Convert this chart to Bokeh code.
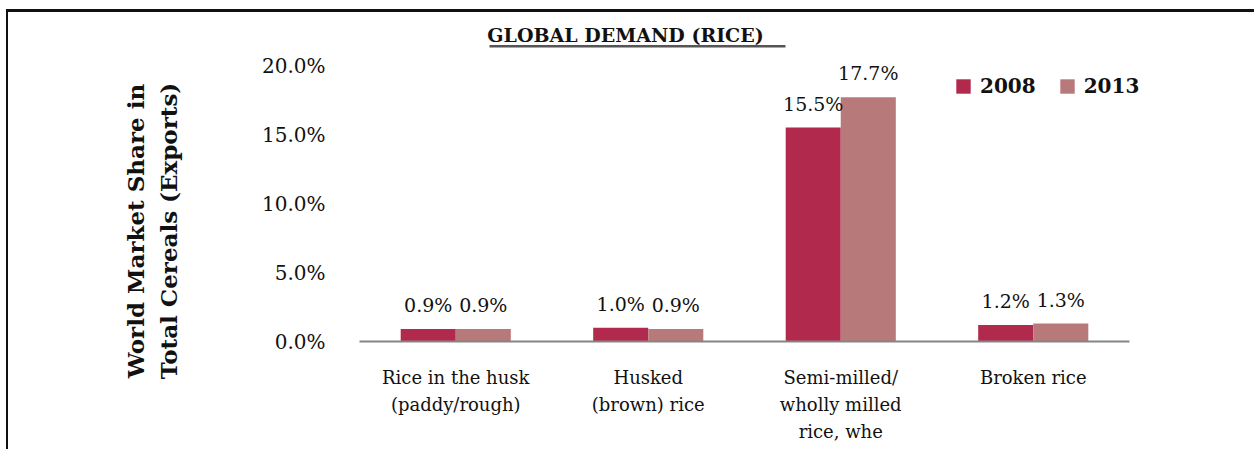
import numpy as np
from bokeh.plotting import figure
from bokeh.layouts import row
from bokeh.models import (Range1d, PrintfTickFormatter, Label, BoxAnnotation,
                          Legend, LegendItem, ColumnDataSource, FixedTicker, Div)
from bokeh.transform import dodge
from bokeh.core.properties import value
from bokeh.embed import file_html
from bokeh.resources import INLINE

# ---- data ----
categories = ["Rice in the husk\n(paddy/rough)", "Husked\n(brown) rice",
              "Semi-milled/\nwholly milled\nrice, whe", "Broken rice"]
share_2008 = [0.9, 1.0, 15.5, 1.2]
share_2013 = [0.9, 0.9, 17.7, 1.3]
series_names = ["2008", "2013"]
y_ticks = [0, 5, 10, 15, 20]
title_text = "GLOBAL DEMAND (RICE)"
y_title_lines = ["World Market Share in", "Total Cereals (Exports)"]

colors = ["#B2294E", "#B8797B"]
SERIF = "DejaVu Serif"
TXT = "#111111"

# ---- layout geometry (page pixels) ----
TOP = 12            # content starts below the top rule
LEFT_W = 240        # width of the left (y-title) column incl. left rule
RULE_X = 8          # left margin + left rule width
FRAME_L = 359       # plot frame left edge
FRAME_B = 341       # value 0 baseline
PX_PER_UNIT_Y = 13.8
PX_PER_CAT = 192.5
TOTAL_W, TOTAL_H = 1254, 449
CH = TOTAL_H - TOP

pos = np.arange(len(categories)) + 0.5
src = ColumnDataSource(dict(
    pos=pos,
    v2008=share_2008,
    v2013=share_2013,
    t2008=[f"{v:.1f}%" for v in share_2008],
    t2013=[f"{v:.1f}%" for v in share_2013],
))

# ---------------- main chart ----------------
frame_h = FRAME_B - TOP
frame_w = TOTAL_W - FRAME_L
main_w = TOTAL_W - LEFT_W
p = figure(x_range=Range1d(0, frame_w / PX_PER_CAT),
           y_range=Range1d(0, frame_h / PX_PER_UNIT_Y),
           width=main_w, height=CH, frame_width=frame_w, frame_height=frame_h,
           output_backend="svg", toolbar_location=None,
           min_border_left=FRAME_L - LEFT_W, min_border_right=0, min_border_top=0,
           min_border_bottom=CH - frame_h, outline_line_color=None)

def dx(page_x):
    return (page_x - FRAME_L) / PX_PER_CAT

def dy(page_y):
    return (FRAME_B - page_y) / PX_PER_UNIT_Y

off = 0.143
bw = 0.286
r1 = p.vbar(x=dodge("pos", -off), top="v2008", width=bw,
            source=src, fill_color=colors[0], line_color=None)
r2 = p.vbar(x=dodge("pos", off), top="v2013", width=bw,
            source=src, fill_color=colors[1], line_color=None)

for col, tcol, o in (("v2008", "t2008", -off), ("v2013", "t2013", off)):
    p.text(x=dodge("pos", o), y=col, text=tcol, source=src,
           text_align="center", text_baseline="alphabetic", y_offset=-24,
           text_font=value(SERIF), text_font_size="19px", text_color=TXT)

p.xgrid.grid_line_color = None
p.ygrid.grid_line_color = None

ya = p.yaxis[0]
ya.ticker = FixedTicker(ticks=y_ticks)
ya.formatter = PrintfTickFormatter(format="%.1f%%")
ya.axis_line_color = None
ya.major_tick_line_color = None
ya.minor_tick_line_color = None
ya.major_label_standoff = 28
ya.major_label_text_font = SERIF
ya.major_label_text_font_size = "20px"
ya.major_label_text_color = TXT

xa = p.xaxis[0]
xa.ticker = FixedTicker(ticks=list(pos))
xa.major_label_overrides = {float(x): c for x, c in zip(pos, categories)}
xa.bounds = (0, len(categories))
xa.axis_line_color = "#858585"
xa.axis_line_width = 2
xa.major_tick_line_color = None
xa.minor_tick_line_color = None
xa.major_label_standoff = 19
xa.major_label_text_font = SERIF
xa.major_label_text_font_size = "18px"
xa.major_label_text_color = TXT
xa.major_label_text_line_height = 1.3

legend = Legend(items=[LegendItem(label=series_names[0], renderers=[r1]),
                       LegendItem(label=series_names[1], renderers=[r2])],
                orientation="horizontal", location=(595, 243),
                glyph_width=18, glyph_height=18, label_standoff=8, spacing=22,
                padding=0, margin=0, border_line_color=None,
                background_fill_alpha=0,
                label_text_font=SERIF, label_text_font_size="20px",
                label_text_font_style="bold", label_text_color=TXT)
p.add_layout(legend)

# title with underline
p.add_layout(Label(x=dx(625), y=dy(34), text=title_text,
                   text_align="center", text_baseline="alphabetic",
                   text_font=SERIF, text_font_size="19px", text_font_style="bold",
                   text_color=TXT))
p.add_layout(BoxAnnotation(left=dx(489), right=dx(785), top=dy(44.5), bottom=dy(47),
                           fill_color="#555555", fill_alpha=1, line_color=None))

# ---------------- left column: rotated two-line y title ----------------
div_w = LEFT_W - RULE_X
block_w = 330
line_h = 33
cx, cy = 151.5 - RULE_X, 231 - TOP     # centre of the title block inside the div
ytitle_html = (
    f'<div style="width:{block_w}px; margin-left:{cx - block_w / 2:.1f}px; '
    f'margin-top:{cy - line_h:.1f}px; transform:rotate(-90deg); '
    f'transform-origin:50% 50%; text-align:center; white-space:nowrap; '
    f"font-family:'{SERIF}'; font-weight:bold; font-size:23px; "
    f'line-height:{line_h}px; color:{TXT};">'
    + "<br>".join(y_title_lines) + "</div>"
)
ytitle = Div(text=ytitle_html, width=div_w, height=CH,
             styles={"overflow": "visible", "margin": "0", "padding": "0"})

layout = row(ytitle, p, styles={"margin-top": "9px", "margin-left": "6px",
                                "border-top": "3px solid #111111",
                                "border-left": "2px solid #111111"})

open("out.html", "w").write(file_html(layout, INLINE))
